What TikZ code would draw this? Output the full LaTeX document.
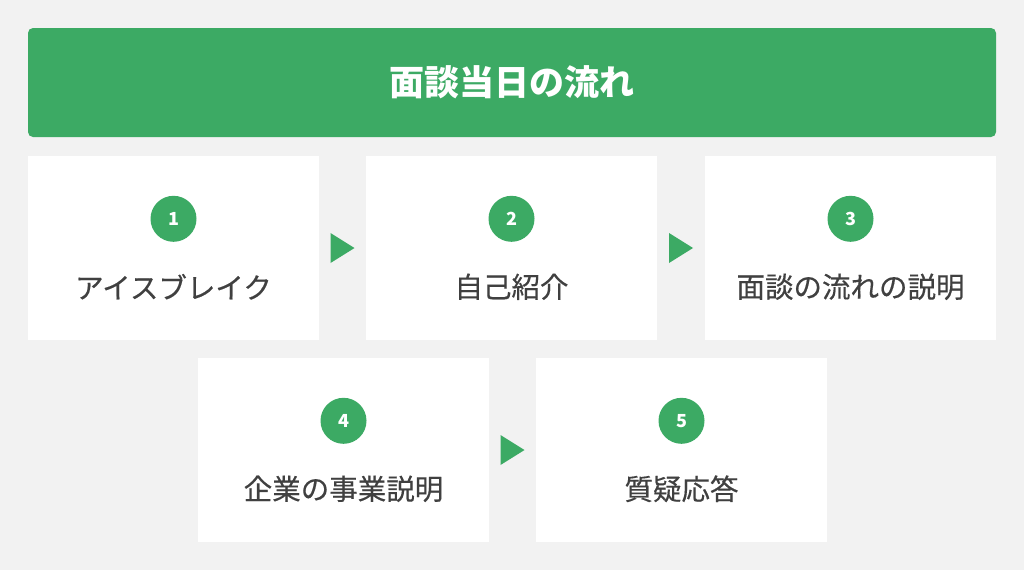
\documentclass[tikz,border=0pt]{standalone}
\usepackage{fontspec}
\newfontfamily\cjk{Noto Sans CJK JP}
\newfontfamily\cjkmed[FakeBold=0.4]{Noto Sans CJK JP}
\usetikzlibrary{calc}
\definecolor{bg}{HTML}{F2F2F2}
\definecolor{grn}{HTML}{3CAA64}
\definecolor{txt}{HTML}{404040}
\begin{document}
\begin{tikzpicture}[x=1pt,y=-1pt,
  stepbox/.style={fill=white,draw=none,minimum width=291pt,minimum height=184pt,inner sep=0pt},
  numcirc/.style={circle,fill=grn,minimum size=46pt,inner sep=0pt,text=white,font=\cjk\bfseries\fontsize{18}{18}\selectfont},
  lbl/.style={text=txt,font=\cjkmed\fontsize{28.5}{28.5}\selectfont,inner sep=0pt},
  tri/.style={fill=grn,draw=none}]
\fill[bg] (0,0) rectangle (1024,570);
\useasboundingbox (0,0) rectangle (1024,570);
\node[fill=grn,rounded corners=5pt,minimum width=968pt,minimum height=109pt,inner sep=0pt,
  text=white,font=\cjk\bfseries\fontsize{35}{35}\selectfont] (head) at (512,82.5) {面談当日の流れ};
\node[stepbox] (b1) at (173.5,248) {};
\node[stepbox] (b2) at (511.5,248) {};
\node[stepbox] (b3) at (850.5,248) {};
\node[stepbox] (b4) at (343.5,450) {};
\node[stepbox] (b5) at (681.5,450) {};
\foreach \b/\n/\t in {b1/1/アイスブレイク,b2/2/自己紹介,b3/3/面談の流れの説明,b4/4/企業の事業説明,b5/5/質疑応答}{
  \node[numcirc] (\b c) at ($(\b.north)+(0,63)$) {\n};
  \node[lbl] (\b t) at ($(\b.north)+(0,131)$) {\t};
}
\foreach \a/\b in {b1/b2,b2/b3,b4/b5}{
  \coordinate (\a m) at ($(\a.east)!0.5!(\b.west)$);
  \fill[tri] ($(\a m)+(-12,-15)$) -- ($(\a m)+(12,0)$) -- ($(\a m)+(-12,15)$) -- cycle;
}
\end{tikzpicture}
\end{document}
